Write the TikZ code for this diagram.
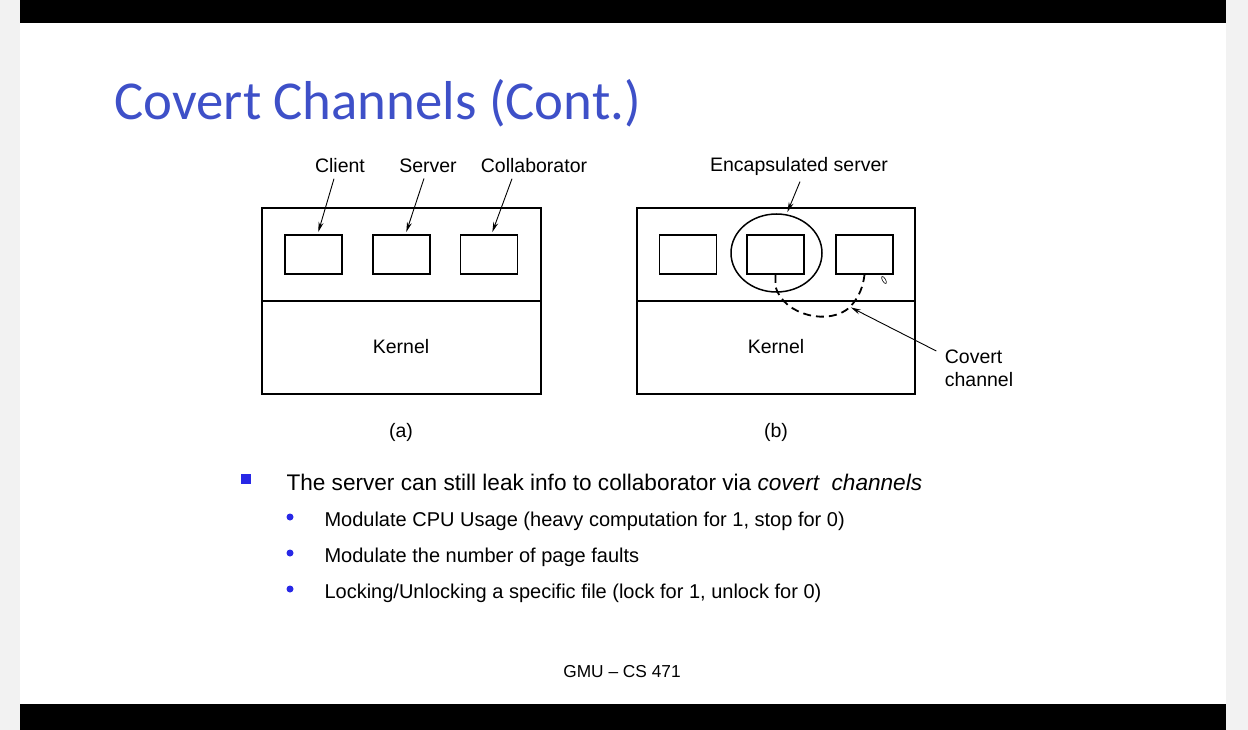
\documentclass[tikz,border=0pt]{standalone}
\usepackage{fontspec}
\setmainfont{Liberation Sans}
\newfontfamily\titlefont{Carlito}
\usetikzlibrary{arrows.meta,positioning}
\definecolor{titleblue}{RGB}{62,80,200}
\definecolor{bulletblue}{RGB}{40,40,230}
\definecolor{sidegray}{RGB}{242,242,242}

\begin{document}
\begin{tikzpicture}[x=1pt,y=-1pt,>={Stealth[length=10pt,width=5pt]},
        frame/.style={draw,line width=1.5pt},
        box/.style={frame,minimum width=57pt,minimum height=39pt,inner sep=0pt},
        lbl/.style={font=\fontsize{19.5}{23}\selectfont},
        ptr/.style={->,line width=0.9pt,shorten >=1pt}]

  % slide frame
  \fill[sidegray] (0,0) rectangle (1248,730);
  \fill[white] (20,0) rectangle (1226,730);
  \fill[black] (20,0) rectangle (1226,23);
  \fill[black] (20,704) rectangle (1226,730);
  \useasboundingbox (0,0) rectangle (1248,730);

  \node[anchor=west,text=titleblue,font=\titlefont\fontsize{54.8}{58}\selectfont] (title) at (111,103) {Covert Channels (Cont.)};

  % (a)
  \draw[frame] (262,208) rectangle (541,394);
  \draw[frame] (262,301) -- (541,301);
  \node[box] (client) at (313.5,254.5) {};
  \node[box] (server) at (401.5,254.5) {};
  \node[box] (collab) at (489,254.5) {};
  \node[lbl] (l_client) at (340,166) {Client};
  \node[lbl] (l_server) at (428,166) {Server};
  \node[lbl] (l_collab) at (534,166) {Collaborator};
  \node[lbl] (kernel_a) at (401,347) {Kernel};
  \node[lbl] (cap_a) at (401,432) {(a)};

  \draw[ptr] (l_client.south) ++(-6,2) -- (318,233);
  \draw[ptr] (l_server.south) ++(-4,2) -- (406,233);
  \draw[ptr] (l_collab.south) ++(-22,2) -- (492,233);

  % (b)
  \draw[frame] (637,208) rectangle (915,394);
  \draw[frame] (637,301) -- (915,301);
  \node[box] (b_client) at (688,254.5) {};
  \node[box] (b_server) at (775.5,254.5) {};
  \node[box] (b_collab) at (864.5,254.5) {};
  \draw[frame] (776.5,253) ellipse (45.5 and 39);
  \draw[line width=0.6pt,rotate around={-60:(884,280)}] (884,280) ellipse (4 and 1.6);
  \node[lbl] (l_encap) at (799,166) {Encapsulated server};
  \node[lbl] (kernel_b) at (776,347) {Kernel};
  \node[lbl] (cap_b) at (776,432) {(b)};
  \node[lbl,align=left] (l_covert) at (979,368) {Covert\\channel};

  \draw[line width=1.8pt,dash pattern=on 8pt off 5pt] (b_server.south) -- ++(0,12)
        .. controls (784,316) and (830,326) .. (850,307)
        .. controls (860,296) and (863,286) .. (b_collab.south);
  \draw[ptr] (l_encap.south) ++(1,3) -- (787,213);
  \draw[ptr] (l_covert.west) ++(-5,-17) -- (850,307);

  % bullets
  \fill[bulletblue] (241,474) rectangle (251,484);
  \node[anchor=west,font=\fontsize{22.6}{26}\selectfont] (main) at (283,482)
        {The server can still leak info to collaborator via \textit{covert\ \ channels}};
  \foreach \y/\txt in {521/{Modulate CPU Usage (heavy computation for 1, stop for 0)},
                       557/{Modulate the number of page faults},
                       593/{Locking/Unlocking a specific file (lock for 1, unlock for 0)}} {
    \fill[bulletblue] (290,\y-4) circle (3.5);
    \node[anchor=west,font=\fontsize{20}{24}\selectfont] at (321,\y) {\txt};
  }

  \node[font=\fontsize{17.3}{21}\selectfont] (footer) at (622,672) {GMU -- CS 471};

\end{tikzpicture}
\end{document}
